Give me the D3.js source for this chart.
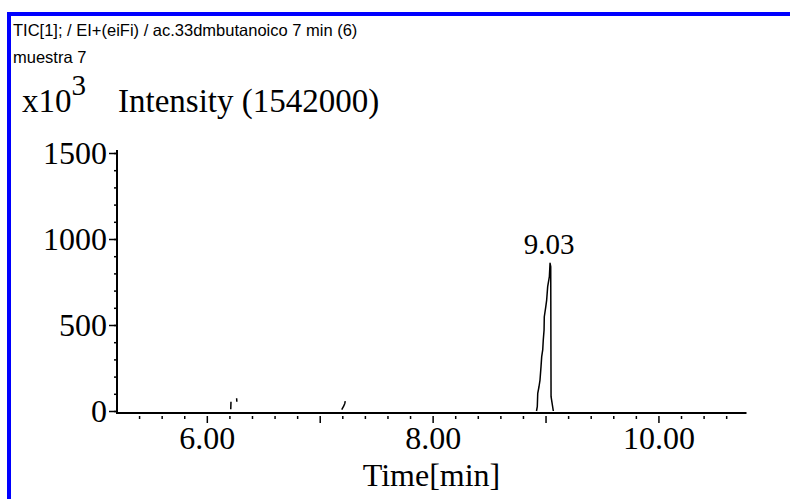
<!DOCTYPE html>
<html>
<head>
<meta charset="utf-8">
<script src="https://cdn.jsdelivr.net/npm/d3@7"></script>
<style>
  body { margin: 0; background: #fff; }
  svg { display: block; }
</style>
</head>
<body>
<svg id="chart" width="790" height="499"></svg>
<script>
// header text
const headerLines = ["TIC[1]; / EI+(eiFi) / ac.33dmbutanoico 7 min (6)", "muestra 7"];
const intensityTitle = "Intensity (1542000)";
const xTitle = "Time[min]";

// axes
const yMajorTicks = [0, 500, 1000, 1500];
const yMinorTicks = d3.range(0, 1501, 100);
const xLabelTicks = [6, 8, 10];
const xMinorTicks = d3.range(27).map(i => +(5.4 + i * 0.2).toFixed(1));

// trace (x10^3 counts), null = gap in the drawn trace
const traceTime = [
  6.212, 6.214, null,
  6.264, 6.266, null,
  7.195, 7.212, 7.222, 7.226, null,
  8.920, 8.927, 8.931, 8.942, 8.951, 8.960, 8.966, 8.975, 8.980, 8.987, 8.989,
  9.002, 9.010, 9.019, 9.034, 9.040, 9.046, 9.049, 9.069
];
const traceIntensity = [
  10, 54, null,
  74, 54, null,
  8, 28, 44, 58, null,
  0, 25, 103, 141, 180, 258, 316, 355, 413, 471, 548,
  606, 645, 723, 781, 859, 839, 83, 0
];
const peakLabels = ["9.03"];

const serif = '"Liberation Serif", "Times New Roman", serif';
const sans = '"Liberation Sans", Arial, sans-serif';

const svg = d3.select("#chart");
svg.append("rect").attr("width", 790).attr("height", 499).attr("fill", "#fff");

// blue frame (top + left)
svg.append("path")
  .attr("d", "M9,499V14H790")
  .attr("fill", "none")
  .attr("stroke", "#0000ff")
  .attr("stroke-width", 4);

svg.selectAll("text.header")
  .data(headerLines)
  .enter().append("text")
  .attr("class", "header")
  .attr("x", 13)
  .attr("y", (d, i) => 36 + i * 27)
  .attr("font-family", sans)
  .attr("font-size", 16.5)
  .text(d => d);

const x = d3.scaleLinear().domain([5.2, 10.78]).range([116.5, 746.5]);
const y = d3.scaleLinear().domain([0, 1500]).range([411, 153]);

// y axis
svg.append("g")
  .attr("transform", "translate(117,0)")
  .call(d3.axisLeft(y).tickValues(yMinorTicks).tickSize(3).tickFormat(""))
  .call(g => g.select(".domain").remove())
  .selectAll("line").attr("stroke-width", 1.5);

const yAxis = svg.append("g")
  .attr("transform", "translate(117,0)")
  .call(d3.axisLeft(y).tickValues(yMajorTicks).tickSize(8).tickSizeOuter(0).tickPadding(2).tickFormat(d => d));
yAxis.select(".domain").attr("stroke-width", 2).attr("d", `M0,${y(1500) - 3}V${y(0) + 3}`);
yAxis.selectAll("line").attr("stroke-width", 1.5);
yAxis.selectAll("text")
  .attr("font-family", serif)
  .attr("font-size", 32)
  .attr("fill", "#000");

// x axis
const xAxis = svg.append("g")
  .attr("transform", "translate(0,413)")
  .call(d3.axisBottom(x).tickValues(xMinorTicks).tickSizeOuter(0).tickFormat(""));
xAxis.select(".domain").attr("stroke-width", 2).attr("d", `M${x.range()[0]},0H${x.range()[1]}`);
xAxis.selectAll(".tick line")
  .attr("y1", 3)
  .attr("y2", d => Number.isInteger(d) ? 10 : 6)
  .attr("stroke-width", 1.5);

svg.append("g")
  .attr("transform", "translate(0,413)")
  .call(d3.axisBottom(x).tickValues(xLabelTicks).tickSize(0).tickPadding(13).tickFormat(d3.format(".2f")))
  .call(g => g.select(".domain").remove())
  .selectAll("text")
  .attr("font-family", serif)
  .attr("font-size", 32)
  .attr("fill", "#000");

svg.append("text")
  .attr("x", (x.range()[0] + x.range()[1]) / 2)
  .attr("y", 486)
  .attr("text-anchor", "middle")
  .attr("font-family", serif)
  .attr("font-size", 32)
  .text(xTitle);

// y title with x10^3
const yTitle = svg.append("text")
  .attr("x", 22)
  .attr("y", 112)
  .attr("font-family", serif)
  .attr("font-size", 33);
yTitle.append("tspan").text("x10");
yTitle.append("tspan").attr("dy", -17).attr("font-size", 29).text("3");
svg.append("text")
  .attr("x", 118)
  .attr("y", 112)
  .attr("font-family", serif)
  .attr("font-size", 33)
  .text(intensityTitle);

// trace
const points = traceTime.map((t, i) => ({ t, v: traceIntensity[i] }));
const line = d3.line()
  .defined(d => d.t !== null)
  .x(d => x(d.t))
  .y(d => y(d.v));

svg.append("path")
  .datum(points)
  .attr("fill", "none")
  .attr("stroke", "#000")
  .attr("stroke-width", 1.5)
  .attr("stroke-linejoin", "round")
  .attr("d", line);

// peak label at apex
const apex = d3.greatest(points.filter(d => d.t !== null), d => d.v);
svg.append("text")
  .attr("x", x(apex.t) - 1)
  .attr("y", y(apex.v) - 9)
  .attr("text-anchor", "middle")
  .attr("font-family", serif)
  .attr("font-size", 29)
  .text(peakLabels[0]);
</script>
</body>
</html>
